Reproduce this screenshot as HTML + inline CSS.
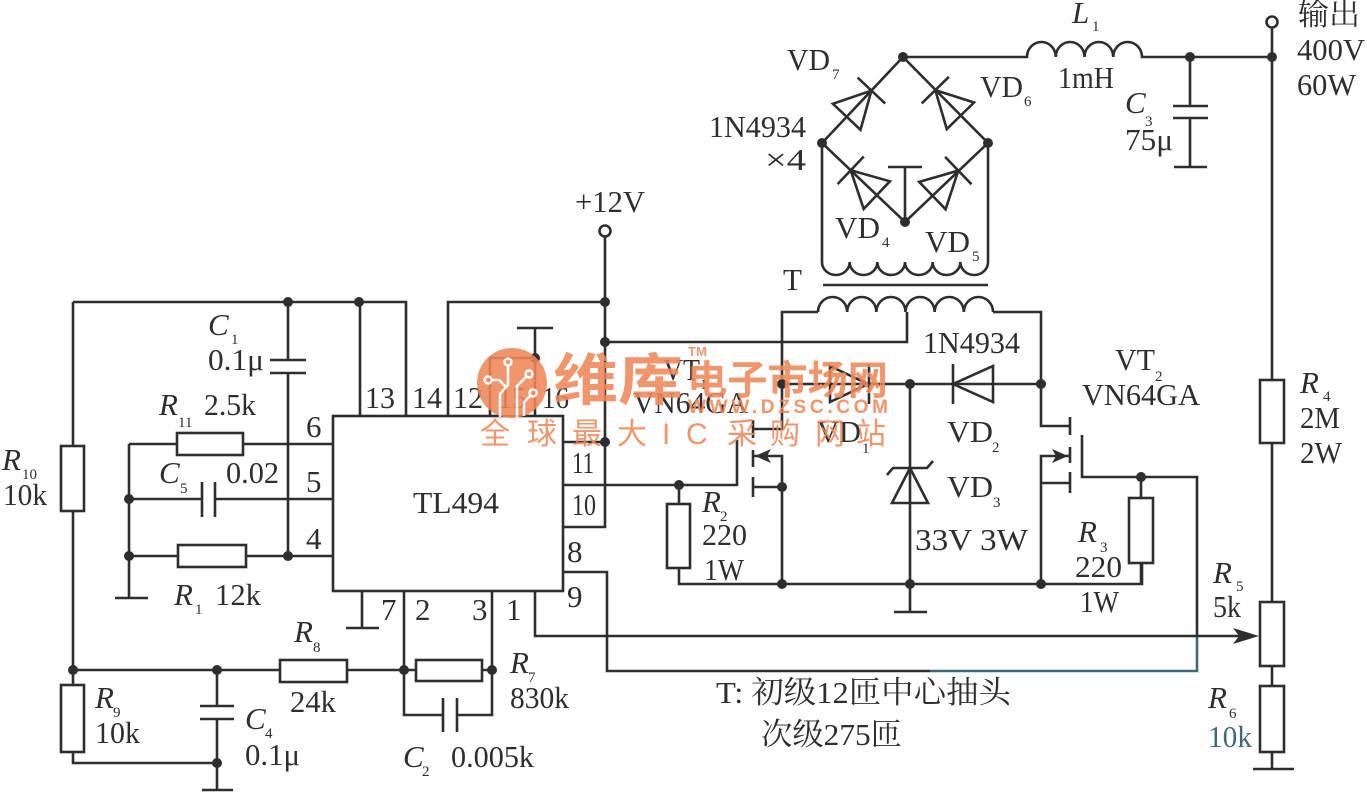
<!DOCTYPE html>
<html><head><meta charset="utf-8"><style>
html,body{margin:0;padding:0;background:#fff;}
svg{display:block;}
text{font-family:"Liberation Serif","Noto Serif CJK SC",serif;fill:#2e2e2e;font-size:31px;}
.i{font-style:italic;}
.s{font-size:15px;}
.cj{font-family:"Liberation Serif","Noto Serif CJK SC","Noto Sans CJK SC",serif;}
.wm{font-family:"Noto Sans CJK SC","WenQuanYi Zen Hei",sans-serif;fill:#F0875A;font-weight:bold;}
</style></head><body>
<svg width="1367" height="792" viewBox="0 0 1367 792" xmlns="http://www.w3.org/2000/svg">
<rect width="1367" height="792" fill="#fff"/>
<g fill="none" stroke="#2e2e2e" stroke-width="2.6">
<!-- left section -->
<path d="M73,302 H406 V416 M360,302 V416 M73,302 V446 M73,511 V685 M73,752 V763 H217"/>
<rect x="61" y="446" width="23" height="65"/>
<rect x="61" y="685" width="23" height="67"/>
<path d="M288,302 V360 M270,360 H306 M270,373 H306 M288,373 V556"/>
<path d="M129,444 H177 M243,444 H333"/>
<rect x="177" y="433" width="66" height="22"/>
<path d="M129,499 H202 M202,482 V517 M215,482 V517 M215,499 H333"/>
<path d="M129,556 H178 M246,556 H333"/>
<rect x="178" y="545" width="68" height="22"/>
<path d="M129,444 V598 M115,598 H148"/>
<rect x="333" y="416" width="230" height="175"/>
<path d="M448,416 V302 H605 M490,416 V358 H535 M535,416 V328 M517,328 H553"/>
<path d="M605,236.5 V527 H563 M563,442 H605 M605,342 H907 V312"/>
<path d="M563,485 H737 V440 M679,485 V504 M679,568 V584 H1142 V563"/>
<rect x="667" y="504" width="23" height="64"/>
<!-- VT1 -->
<path d="M753,420 V438 M753,450 V467 M753,477 V497 M753,429 H782 V312 H818 M753,456 H782 V584 M753,487 H782"/>
<!-- primary coil -->
<path d="M818,312 a14.58,15 0 0 1 29.17,0 a14.58,15 0 0 1 29.17,0 a14.58,15 0 0 1 29.17,0 a14.58,15 0 0 1 29.17,0 a14.58,15 0 0 1 29.17,0 a14.58,15 0 0 1 29.17,0"/>
<path d="M993,312 H1041 V426 H1070 M782,384 H1041"/>
<polygon points="830,366 830,402 868,384"/>
<path d="M869,364 V404 M953,364 V404"/>
<polygon points="993,366 993,402 953,384"/>
<!-- zener -->
<path d="M910,384 V584"/>
<polygon points="910,468 892,503 928,503"/>
<path d="M887,475 L893,468 H927 L933,461 M910,584 V612 M894,612 H927"/>
<!-- VT2 -->
<path d="M1070,417 V435 M1070,447 V463 M1070,472 V493 M1070,456 H1041 V584 M1041,483 H1070 M1082,435 V477 H1197 V636"/>
<path d="M1141,477 V498 M1141,563 V584"/>
<rect x="1129" y="498" width="24" height="65"/>
<path d="M563,572 H607 V671 H930"/>
<path d="M930,671 H1197 V636" stroke="#3f6a75"/>
<path d="M535,591 V636 H1240"/>
<!-- bottom pins -->
<path d="M362,591 V628 M346,628 H379"/>
<path d="M404,591 V715 H443 M443,698 V732 M457,698 V732 M457,715 H492 V591"/>
<path d="M73,670 H280 M347,670 H416 M482,670 H492"/>
<rect x="280" y="660" width="67" height="22"/>
<rect x="416" y="660" width="66" height="21"/>
<path d="M217,670 V706 M200,706 H234 M200,719 H234 M217,719 V790 M202,790 H233"/>
<!-- bridge -->
<path d="M822,143 L903,57 L988,143 L905,222 Z"/>
<path d="M822,143 V262 a13.83,13 0 0 0 27.67,0 a13.83,13 0 0 0 27.67,0 a13.83,13 0 0 0 27.67,0 a13.83,13 0 0 0 27.67,0 a13.83,13 0 0 0 27.67,0 a13.83,13 0 0 0 27.67,0 V143"/>
<path d="M888,167 H922 M905,167 V222 M823,285 H988"/>
<polygon points="860.5,129.8 832.9,103.8 871.4,90.6"/>
<path d="M885.2,103.6 L857.6,77.6"/>
<polygon points="974,102.5 946.8,129.1 935.3,90.1"/>
<path d="M948.9,76.8 L921.7,103.4"/>
<polygon points="889.9,181.3 863.7,208.9 850.7,170.3"/>
<path d="M863.8,156.5 L837.6,184.1"/>
<polygon points="945.6,209.3 919.2,181.9 958.3,170.6"/>
<path d="M971.5,184.3 L945.1,156.9"/>
<!-- L1 & output -->
<path d="M903,57 H1027 a14.37,15 0 0 1 28.75,0 a14.37,15 0 0 1 28.75,0 a14.37,15 0 0 1 28.75,0 a14.37,15 0 0 1 28.75,0 H1272"/>
<path d="M1190,57 V106 M1173,106 H1208 M1173,118 H1208 M1190,118 V167 M1174,167 H1207"/>
<circle cx="1272" cy="22" r="5.5"/>
<circle cx="605" cy="231" r="5.5"/>
<path d="M1272,27.5 V380 M1272,443 V602 M1272,666 V686 M1272,752 V769 M1253,769 H1294"/>
<rect x="1260" y="380" width="24" height="63"/>
<rect x="1260" y="602" width="24" height="64"/>
<rect x="1260" y="686" width="24" height="66"/>
</g>
<g fill="#2e2e2e">
<polygon points="1233,628 1259,636 1233,644 1239,636"/>
<polygon points="755,456 771,449 767,456 771,463"/>
<polygon points="1068,456 1052,449 1056,456 1052,463"/>
<circle cx="288" cy="302" r="5"/><circle cx="359" cy="302" r="5"/><circle cx="129" cy="499" r="5"/>
<circle cx="129" cy="556" r="5"/><circle cx="288" cy="556" r="5"/><circle cx="605" cy="302" r="5"/>
<circle cx="605" cy="342" r="5"/><circle cx="605" cy="442" r="5"/><circle cx="535" cy="358" r="5"/>
<circle cx="679" cy="485" r="5"/><circle cx="782" cy="384" r="5"/><circle cx="782" cy="487" r="5"/>
<circle cx="782" cy="584" r="5"/><circle cx="910" cy="384" r="5"/><circle cx="910" cy="584" r="5"/>
<circle cx="1041" cy="384" r="5"/><circle cx="1041" cy="584" r="5"/><circle cx="1141" cy="477" r="5"/>
<circle cx="73" cy="670" r="5"/><circle cx="217" cy="670" r="5"/><circle cx="217" cy="763" r="5"/>
<circle cx="404" cy="670" r="5"/><circle cx="492" cy="670" r="5"/><circle cx="903" cy="57" r="5"/>
<circle cx="822" cy="143" r="5"/><circle cx="988" cy="143" r="5"/><circle cx="905" cy="222" r="5"/>
<circle cx="1190" cy="57" r="5"/><circle cx="1272" cy="57" r="5"/>
</g>
<!-- texts -->
<text x="575" y="212" textLength="70" lengthAdjust="spacingAndGlyphs">+12V</text>
<text x="787" y="70" textLength="43" lengthAdjust="spacingAndGlyphs">VD</text><text class="s" x="832" y="79">7</text>
<text x="709" y="137" textLength="97" lengthAdjust="spacingAndGlyphs">1N4934</text>
<text x="765" y="170" textLength="41" lengthAdjust="spacingAndGlyphs">×4</text>
<text x="980" y="97" textLength="43" lengthAdjust="spacingAndGlyphs">VD</text><text class="s" x="1024" y="106">6</text>
<text x="835" y="238" textLength="45" lengthAdjust="spacingAndGlyphs">VD</text><text class="s" x="882" y="247">4</text>
<text x="925" y="252" textLength="45" lengthAdjust="spacingAndGlyphs">VD</text><text class="s" x="972" y="261">5</text>
<text x="783" y="290">T</text>
<text class="i" x="1072" y="23">L</text><text class="s" x="1092" y="31">1</text>
<text x="1058" y="88" textLength="56" lengthAdjust="spacingAndGlyphs">1mH</text>
<text class="i" x="1125" y="113">C</text><text class="s" x="1145" y="126">3</text>
<text x="1125" y="150" textLength="48" lengthAdjust="spacingAndGlyphs">75μ</text>
<text class="cj" x="1298" y="25" textLength="62" lengthAdjust="spacingAndGlyphs">输出</text>
<text x="1297" y="60" textLength="68" lengthAdjust="spacingAndGlyphs">400V</text>
<text x="1297" y="95" textLength="59" lengthAdjust="spacingAndGlyphs">60W</text>
<text class="i" x="1300" y="393">R</text><text class="s" x="1323" y="401">4</text>
<text x="1300" y="428" textLength="40" lengthAdjust="spacingAndGlyphs">2M</text>
<text x="1300" y="463" textLength="42" lengthAdjust="spacingAndGlyphs">2W</text>
<text x="1115" y="370" textLength="40" lengthAdjust="spacingAndGlyphs">VT</text><text class="s" x="1155" y="381">2</text>
<text x="1082" y="405" textLength="118" lengthAdjust="spacingAndGlyphs">VN64GA</text>
<text x="923" y="353" textLength="97" lengthAdjust="spacingAndGlyphs">1N4934</text>
<text x="817" y="442" textLength="44" lengthAdjust="spacingAndGlyphs">VD</text><text class="s" x="862" y="453">1</text>
<text x="947" y="442" textLength="46" lengthAdjust="spacingAndGlyphs">VD</text><text class="s" x="992" y="452">2</text>
<text x="947" y="497" textLength="46" lengthAdjust="spacingAndGlyphs">VD</text><text class="s" x="993" y="507">3</text>
<text x="915" y="550" textLength="113" lengthAdjust="spacingAndGlyphs">33V  3W</text>
<text class="i" x="1078" y="542">R</text><text class="s" x="1100" y="552">3</text>
<text x="1075" y="577" textLength="47" lengthAdjust="spacingAndGlyphs">220</text>
<text x="1080" y="612" textLength="39" lengthAdjust="spacingAndGlyphs">1W</text>
<text class="i" x="702" y="512">R</text><text class="s" x="720" y="521">2</text>
<text x="702" y="545" textLength="45" lengthAdjust="spacingAndGlyphs">220</text>
<text x="704" y="580" textLength="40" lengthAdjust="spacingAndGlyphs">1W</text>
<text x="663" y="380" textLength="37" lengthAdjust="spacingAndGlyphs">VT</text><text class="s" x="700" y="389">1</text>
<text x="633" y="413" textLength="115" lengthAdjust="spacingAndGlyphs">VN64GA</text>
<text x="413" y="513" textLength="86" lengthAdjust="spacingAndGlyphs">TL494</text>
<text x="365" y="408" textLength="30" lengthAdjust="spacingAndGlyphs">13</text>
<text x="412" y="408" textLength="30" lengthAdjust="spacingAndGlyphs">14</text>
<text x="453" y="408" textLength="30" lengthAdjust="spacingAndGlyphs">12</text>
<text x="498" y="408" textLength="28" lengthAdjust="spacingAndGlyphs">15</text>
<text x="542" y="408" textLength="27" lengthAdjust="spacingAndGlyphs">16</text>
<text x="306" y="437">6</text><text x="306" y="492">5</text><text x="306" y="549">4</text>
<text x="572" y="473" textLength="22" lengthAdjust="spacingAndGlyphs">11</text>
<text x="572" y="515" textLength="24" lengthAdjust="spacingAndGlyphs">10</text>
<text x="567" y="562">8</text><text x="567" y="607">9</text>
<text x="381" y="620">7</text><text x="415" y="620">2</text><text x="472" y="620">3</text><text x="506" y="620">1</text>
<text class="i" x="2" y="470">R</text><text class="s" x="22" y="479">10</text>
<text x="3" y="505" textLength="44" lengthAdjust="spacingAndGlyphs">10k</text>
<text class="i" x="208" y="335">C</text><text class="s" x="231" y="344">1</text>
<text x="208" y="370" textLength="56" lengthAdjust="spacingAndGlyphs">0.1μ</text>
<text class="i" x="159" y="415">R</text><text class="s" x="178" y="427">11</text>
<text x="204" y="415" textLength="52" lengthAdjust="spacingAndGlyphs">2.5k</text>
<text class="i" x="159" y="483">C</text><text class="s" x="180" y="493">5</text>
<text x="226" y="483" textLength="53" lengthAdjust="spacingAndGlyphs">0.02</text>
<text class="i" x="174" y="605">R</text><text class="s" x="195" y="614">1</text>
<text x="215" y="605" textLength="46" lengthAdjust="spacingAndGlyphs">12k</text>
<text class="i" x="294" y="642">R</text><text class="s" x="313" y="652">8</text>
<text x="290" y="712" textLength="46" lengthAdjust="spacingAndGlyphs">24k</text>
<text class="i" x="95" y="708">R</text><text class="s" x="113" y="717">9</text>
<text x="95" y="743" textLength="45" lengthAdjust="spacingAndGlyphs">10k</text>
<text class="i" x="245" y="729">C</text><text class="s" x="265" y="738">4</text>
<text x="245" y="765" textLength="55" lengthAdjust="spacingAndGlyphs">0.1μ</text>
<text class="i" x="510" y="673">R</text><text class="s" x="528" y="682">7</text>
<text x="510" y="708" textLength="59" lengthAdjust="spacingAndGlyphs">830k</text>
<text class="i" x="403" y="767">C</text><text class="s" x="422" y="776">2</text>
<text x="451" y="767" textLength="83" lengthAdjust="spacingAndGlyphs">0.005k</text>
<text class="i" x="1213" y="583">R</text><text class="s" x="1236" y="591">5</text>
<text x="1213" y="617" textLength="28" lengthAdjust="spacingAndGlyphs">5k</text>
<text class="i" x="1208" y="708">R</text><text class="s" x="1229" y="718">6</text>
<text x="1208" y="747" textLength="44" lengthAdjust="spacingAndGlyphs" style="fill:#3f6a75">10k</text>
<text class="cj" x="716" y="703" textLength="295" lengthAdjust="spacingAndGlyphs">T: 初级12匝中心抽头</text>
<text class="cj" x="761" y="745" textLength="141" lengthAdjust="spacingAndGlyphs">次级275匝</text>
<!-- watermark -->
<g opacity="0.88">
<circle cx="512" cy="383" r="35" fill="#F0875A"/>
<g fill="none" stroke="#fff" stroke-width="2.5">
<circle cx="508" cy="362" r="3.5"/><path d="M508,366 V385 L500,394 V417"/>
<circle cx="488" cy="380" r="3.5"/><path d="M492,380 H499 L506,387"/>
<circle cx="529" cy="374" r="3.5"/><path d="M526,377 L517,386 V418"/>
<circle cx="533" cy="393" r="3.5"/><path d="M530,396 L524,402 V416"/>
</g>
<text class="wm" x="553" y="400" font-size="56" textLength="130" lengthAdjust="spacingAndGlyphs" style="font-size:56px">维库</text>
<text class="wm" x="688" y="356" style="font-size:13px;font-family:'Liberation Sans',sans-serif">TM</text>
<text class="wm" x="687" y="394" textLength="201" lengthAdjust="spacingAndGlyphs" style="font-size:40px">电子市场网</text>
<text class="wm" x="688" y="413" textLength="200" lengthAdjust="spacing" style="font-size:19px;font-family:'Liberation Sans',sans-serif">WWW.DZSC.COM</text>
<g class="wm" style="font-weight:normal">
<text class="wm" x="480" y="444" style="font-size:30px;font-weight:normal">全</text>
<text class="wm" x="527" y="444" style="font-size:30px;font-weight:normal">球</text>
<text class="wm" x="572" y="444" style="font-size:30px;font-weight:normal">最</text>
<text class="wm" x="617" y="444" style="font-size:30px;font-weight:normal">大</text>
<text class="wm" x="662" y="444" style="font-size:30px;font-weight:normal;font-family:'Liberation Sans',sans-serif">I</text>
<text class="wm" x="686" y="444" style="font-size:30px;font-weight:normal;font-family:'Liberation Sans',sans-serif">C</text>
<text class="wm" x="727" y="444" style="font-size:30px;font-weight:normal">采</text>
<text class="wm" x="770" y="444" style="font-size:30px;font-weight:normal">购</text>
<text class="wm" x="815" y="444" style="font-size:30px;font-weight:normal">网</text>
<text class="wm" x="856" y="444" style="font-size:30px;font-weight:normal">站</text>
</g>
</g>
</svg>
</body></html>
